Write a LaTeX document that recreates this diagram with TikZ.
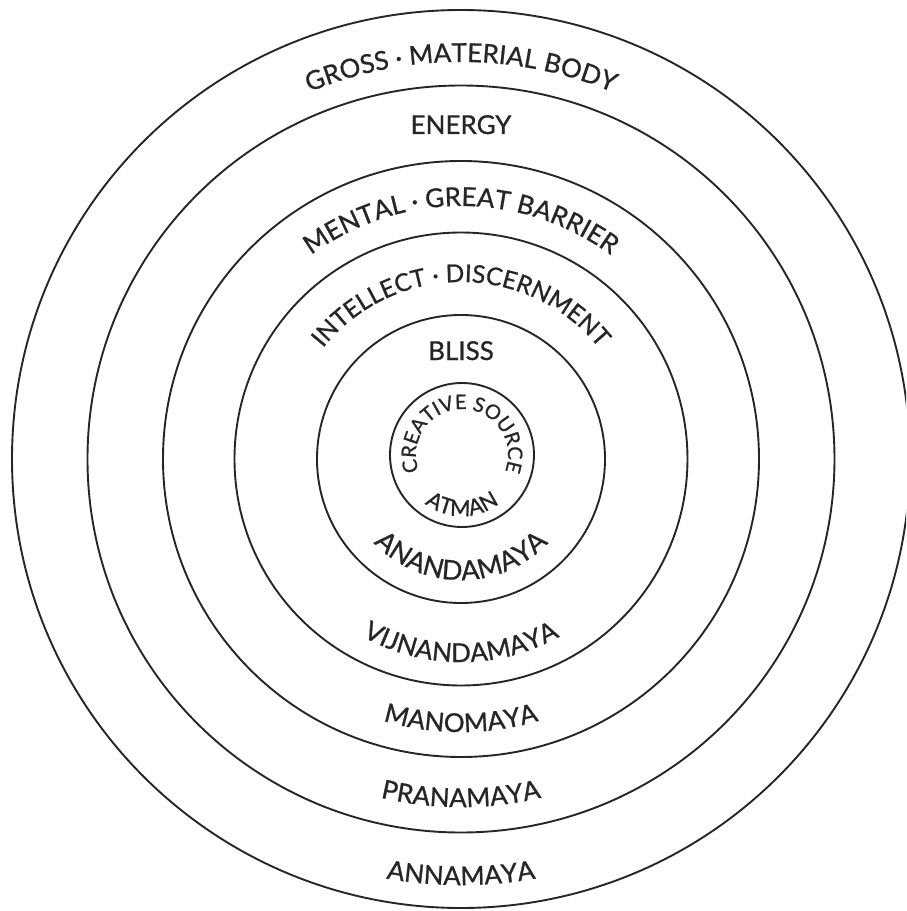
\documentclass[tikz,border=0pt]{standalone}
\usepackage{fontspec}
\setmainfont{Lato}[FakeBold=0.9]
\usetikzlibrary{calc, decorations.text}

\newcommand{\ringfont}{\fontsize{26}{30}\selectfont}
\newcommand{\corefont}{\fontsize{20}{22}\selectfont}

\begin{document}
\begin{tikzpicture}[
    x=1pt, y=1pt,
    ring/.style={
        draw=black!85,
        line width=1.9pt
    },
    arctext/.style={
        decoration={
            text along path,
            text align=center,
            text color=black!85,
            text={#1}
        },
        decorate
    },
    flat/.style={
        anchor=base,
        font=\ringfont,
        text=black!85,
        inner sep=0pt
    }
]

\clip (-461,-452) rectangle (445,459);

% the sheaths
\foreach \r in {449,373.5,298,226.5,144} {
    \draw[ring] (0,0) circle[radius=\r];
}
\draw[ring] (1,4) circle[radius=72];

% upper labels
\path[arctext={|\ringfont|GROSS · MATERIAL BODY}] (200:397) arc[start angle=200, end angle=-20, radius=397];
\node[flat] (energy) at (0,325) {ENERGY};
\path[arctext={|\ringfont|MENTAL · GREAT BARRIER}] (200:253) arc[start angle=200, end angle=-20, radius=253];
\path[arctext={|\fontsize{24.5}{30}\selectfont|INTELLECT · DISCERNMENT}] (220:177) arc[start angle=220, end angle=-40, radius=177];
\node[flat] (bliss) at (0,99) {BLISS};
\path[arctext={|\corefont|CREATIVE SOURCE}] ($(1,4)+(240:46)$) arc[start angle=240, end angle=-60, radius=46];

% lower labels
\path[arctext={|\fontsize{22}{24}\selectfont|ATMAN}] ($(1,4)+(150:61)$) arc[start angle=150, end angle=390, radius=61];
\path[arctext={|\fontsize{27}{30}\selectfont|ANANDAMAYA}] (150:121) arc[start angle=150, end angle=390, radius=121];
\path[arctext={|\ringfont|VIJNANDAMAYA}] (160:203) arc[start angle=160, end angle=380, radius=203];
\path[arctext={|\ringfont|MANOMAYA}] (160:273) arc[start angle=160, end angle=380, radius=273];
\path[arctext={|\ringfont|PRANAMAYA}] (160:348) arc[start angle=160, end angle=380, radius=348];
\path[arctext={|\ringfont|ANNAMAYA}] (160:426) arc[start angle=160, end angle=380, radius=426];

\end{tikzpicture}
\end{document}
